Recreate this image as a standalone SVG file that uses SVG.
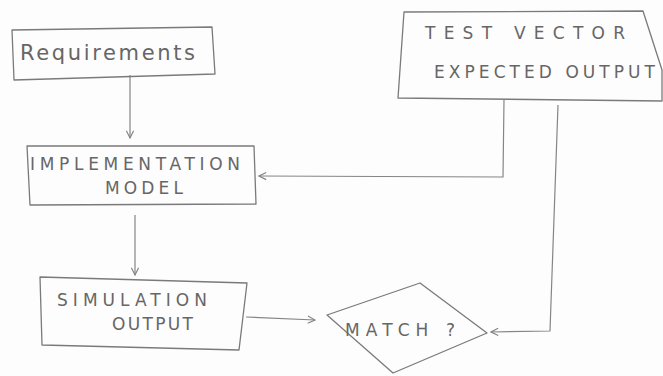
<svg xmlns="http://www.w3.org/2000/svg" width="663" height="376" viewBox="0 0 663 376">
  <style>
    .box { fill: none; stroke: #7a7a7a; stroke-width: 1.3; stroke-linejoin: round; }
    .wire { fill: none; stroke: #858585; stroke-width: 1.2; }
    .lbl { font-family: "DejaVu Sans", "Liberation Sans", sans-serif; fill: #666666; }
    .cap { font-size: 17px; }
  </style>
  <defs>
    <marker id="head" viewBox="0 0 10 10" refX="9" refY="5" markerWidth="9" markerHeight="9" markerUnits="userSpaceOnUse" orient="auto">
      <path d="M1,1 L9,5 L1,9" fill="none" stroke="#858585" stroke-width="1.3"/>
    </marker>
  </defs>
  <rect width="663" height="376" fill="#fdfdfd"/>

  <g id="connectors">
    <path class="wire" d="M130,75 L130,138" marker-end="url(#head)"/>
    <path class="wire" d="M135,215 L135,275" marker-end="url(#head)"/>
    <path class="wire" d="M246,317 L315,320" marker-end="url(#head)"/>
    <path class="wire" d="M504,100 L503,177 L259,176" marker-end="url(#head)"/>
    <path class="wire" d="M558,105 L550,331 L491,332" marker-end="url(#head)"/>
  </g>

  <g id="requirements">
    <polygon class="box" points="12,30 212,27 215,74 14,80"/>
    <text class="lbl" x="20" y="60" font-size="21" textLength="175" lengthAdjust="spacing">Requirements</text>
  </g>

  <g id="test-vector">
    <polygon class="box" points="404,12 643,11 662,70 662,101 398,98"/>
    <text class="lbl cap" x="425" y="39" textLength="200" lengthAdjust="spacing">TEST VECTOR</text>
    <text class="lbl cap" x="434" y="78" textLength="221" lengthAdjust="spacing">EXPECTED OUTPUT</text>
  </g>

  <g id="implementation-model">
    <polygon class="box" points="27,146 254,146 256,204 30,205"/>
    <text class="lbl cap" x="30" y="170" textLength="210" lengthAdjust="spacing">IMPLEMENTATION</text>
    <text class="lbl cap" x="105" y="194" textLength="78" lengthAdjust="spacing">MODEL</text>
  </g>

  <g id="simulation-output">
    <polygon class="box" points="40,277 247,283 239,350 42,345"/>
    <text class="lbl cap" x="57" y="306" textLength="150" lengthAdjust="spacing">SIMULATION</text>
    <text class="lbl cap" x="112" y="330" textLength="81" lengthAdjust="spacing">OUTPUT</text>
  </g>

  <g id="match">
    <polygon class="box" points="327,315 420,283 487,333 393,373"/>
    <text class="lbl cap" x="345" y="336" textLength="110" lengthAdjust="spacing">MATCH ?</text>
  </g>
</svg>
